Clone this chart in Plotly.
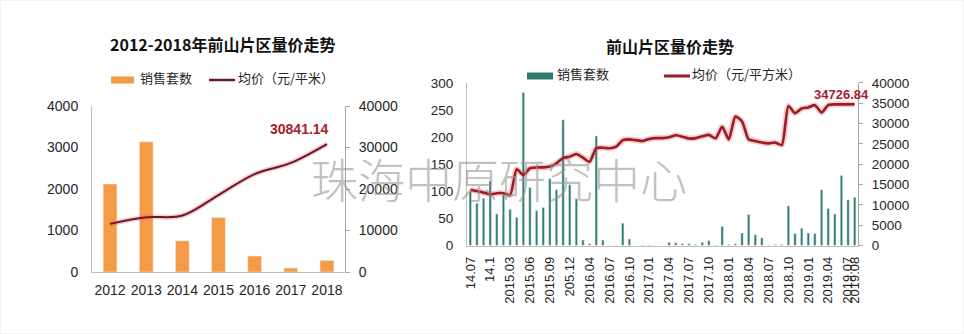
import plotly.graph_objects as go

# ---------------- data ----------------
# 2012-2018 yearly volume / average price
years = ["2012", "2013", "2014", "2015", "2016", "2017", "2018"]
year_sales = [2120, 3136, 751, 1311, 384, 96, 279]
year_price = [11600, 13200, 13600, 18550, 23600, 26300, 30841.14]

# monthly volume / average price, 2014.07 - 2019.08
months = [
    "2014.07", "2014.08", "2014.09", "2014.10", "2014.11", "2014.12",
    "2015.03", "2015.04", "2015.05", "2015.06", "2015.07", "2015.08",
    "2015.09", "2015.10", "2015.11", "2015.12",
    "2016.01", "2016.02",
    "2016.04", "2016.05", "2016.06", "2016.07", "2016.08", "2016.09",
    "2016.10", "2016.11", "2016.12",
    "2017.01", "2017.02", "2017.03", "2017.04", "2017.05", "2017.06",
    "2017.07", "2017.08", "2017.09", "2017.10", "2017.11", "2017.12",
    "2018.01", "2018.02", "2018.03", "2018.04", "2018.05", "2018.06",
    "2018.07", "2018.08", "2018.09", "2018.10", "2018.11", "2018.12",
    "2019.01", "2019.02", "2019.03", "2019.04", "2019.05", "2019.06",
    "2019.07", "2019.08",
]
month_sales = [
    100, 78, 87, 119, 58, 93, 67, 52, 282, 107,
    64, 70, 123, 103, 232, 112, 86, 10, 3, 202,
    10, 0, 1, 41, 12, 0, 1, 1, 0, 0,
    6, 5, 3, 3, 2, 6, 9, 1, 35, 2,
    3, 23, 57, 20, 14, 1, 2, 2, 73, 22,
    32, 23, 22, 103, 68, 58, 129, 84, 89,
]
month_price = [
    13650, 13400, 13000, 12600, 12850, 12850, 12400, 18750, 17350, 19000,
    19200, 19200, 19400, 20200, 21500, 21850, 22500, 21600, 20600, 23900,
    24050, 23900, 24300, 25900, 26100, 25900, 25700, 26200, 26400, 26400,
    26600, 27100, 26750, 26300, 26400, 26850, 27200, 26350, 29200, 26100,
    31700, 30500, 26100, 25700, 25300, 25100, 25300, 24700, 34300, 32500,
    33700, 33950, 34500, 32700, 34500, 34700, 34700, 34700, 34726.84,
]

# labelled months on the monthly axis and the text shown under them
month_tick_vals = [
    "2014.07", "2014.10", "2015.03", "2015.06", "2015.09", "2015.12",
    "2016.04", "2016.07", "2016.10", "2017.01", "2017.04", "2017.07",
    "2017.10", "2018.01", "2018.04", "2018.07", "2018.10", "2019.01",
    "2019.04", "2019.07", "2019.08",
]
month_tick_text = [
    "14.07", "14.1", "2015.03", "2015.06", "2015.09", "205.12",
    "2016.04", "2016.07", "2016.10", "2017.01", "2017.04", "2017.07",
    "2017.10", "2018.01", "2018.04", "2018.07", "2018.10", "2019.01",
    "2019.04", "2019.07", "2019.08",
]

left_title = "2012-2018年前山片区量价走势"
right_title = "前山片区量价走势"
sales_name = "销售套数"
left_price_name = "均价（元/平米）"
right_price_name = "均价（元/平方米）"
watermark = "珠海中原研究中心"

# ---------------- styling ----------------
W, H = 964, 334
ORANGE = "#F59B45"
TEAL = "#2E7B6F"
MAROON = "#721526"
RED = "#9C1B24"
AXIS = "#BFBFBF"
TXT = "#262626"
NUM_FONT = "Liberation Sans"
CJK_FONT = "Noto Sans CJK SC"


def fx(px):
    return px / W


def fy(py):
    return 1 - py / H


# category positions (numeric-looking category names are passed by index)
month_tick_idx = [months.index(m) for m in month_tick_vals]

fig = go.Figure()

# ----- yearly chart -----
fig.add_trace(go.Bar(x=years, y=year_sales, name=sales_name, marker_color=ORANGE,
                     width=0.38, xaxis="x", yaxis="y", showlegend=False))
fig.add_trace(go.Scatter(x=years, y=year_price, mode="lines", xaxis="x", yaxis="y2",
                         line=dict(color="rgba(214,90,100,0.30)", width=5, shape="spline", smoothing=1),
                         hoverinfo="skip", showlegend=False))
fig.add_trace(go.Scatter(x=years, y=year_price, name=left_price_name, mode="lines",
                         xaxis="x", yaxis="y2",
                         line=dict(color=MAROON, width=2, shape="spline", smoothing=1),
                         showlegend=False))

# ----- monthly chart -----
fig.add_trace(go.Bar(x=months, y=month_sales, name=sales_name, marker_color=TEAL,
                     width=0.36, xaxis="x2", yaxis="y3", showlegend=False))
fig.add_trace(go.Scatter(x=months, y=month_price, mode="lines", xaxis="x2", yaxis="y4",
                         line=dict(color="rgba(225,90,95,0.30)", width=6, shape="spline", smoothing=0.6),
                         hoverinfo="skip", showlegend=False))
fig.add_trace(go.Scatter(x=months, y=month_price, name=right_price_name, mode="lines",
                         xaxis="x2", yaxis="y4",
                         line=dict(color=RED, width=2.6, shape="spline", smoothing=0.6),
                         showlegend=False))

tick_num = dict(family=NUM_FONT, size=14, color=TXT)
tick_num_r = dict(family=NUM_FONT, size=13.5, color=TXT)

fig.update_layout(
    width=W, height=H,
    margin=dict(l=0, r=0, t=0, b=0, pad=0, autoexpand=False),
    showlegend=False,
    paper_bgcolor="white", plot_bgcolor="white",
    xaxis=dict(domain=[fx(92), fx(345)], anchor="y", type="category",
               categoryorder="array", categoryarray=years,
               range=[-0.5, len(years) - 0.5],
               showline=True, linecolor=AXIS, linewidth=1, ticks="",
               tickfont=tick_num, ticklabelstandoff=5, showgrid=False),
    yaxis=dict(domain=[fy(272), fy(106)], anchor="x", range=[0, 4000], dtick=1000,
               tickformat="d",
               showline=True, linecolor=AXIS, ticks="", showgrid=False, zeroline=False,
               tickfont=tick_num, ticklabelstandoff=10),
    yaxis2=dict(overlaying="y", side="right", anchor="x", range=[0, 40000], dtick=10000,
                tickformat="d",
                showline=True, linecolor="#A6A6A6", ticks="outside", ticklen=4,
                tickcolor="#A6A6A6", showgrid=False, zeroline=False,
                tickfont=tick_num, ticklabelstandoff=6),
    xaxis2=dict(domain=[fx(467), fx(858)], anchor="y3", type="category",
                categoryorder="array", categoryarray=months,
                range=[-0.5, len(months) - 0.5],
                showline=True, linecolor=AXIS, ticks="", tickangle=-90,
                tickmode="array", tickvals=month_tick_idx, ticktext=month_tick_text,
                tickfont=dict(family=NUM_FONT, size=13, color=TXT),
                ticklabelstandoff=5, showgrid=False),
    yaxis3=dict(domain=[fy(245.5), fy(82.8)], anchor="x2", range=[0, 300], dtick=50,
                tickformat="d",
                showline=True, linecolor=AXIS, ticks="", showgrid=False, zeroline=False,
                tickfont=tick_num_r, ticklabelstandoff=10),
    yaxis4=dict(overlaying="y3", side="right", anchor="x2", range=[0, 40000], dtick=5000,
                tickformat="d",
                showline=True, linecolor="#A6A6A6", ticks="outside", ticklen=4,
                tickcolor="#A6A6A6", showgrid=False, zeroline=False,
                tickfont=tick_num_r, ticklabelstandoff=6),
)
fig.update_xaxes(automargin=False)
fig.update_yaxes(automargin=False)


def paper_text(text, x, y, size, xanchor="left", color=TXT, bold=False):
    return dict(text=f"<b>{text}</b>" if bold else text, x=fx(x), y=fy(y),
                xref="paper", yref="paper", xanchor=xanchor, yanchor="middle",
                showarrow=False, font=dict(family=CJK_FONT, size=size, color=color))


annotations = [
    paper_text(left_title, 222, 44, 16, xanchor="center", color="#111", bold=True),
    paper_text(right_title, 670, 46, 16, xanchor="center", color="#111", bold=True),
    paper_text(sales_name, 138, 78, 13),
    paper_text(left_price_name, 236, 78, 13),
    paper_text(sales_name, 555, 74, 13),
    paper_text(right_price_name, 690, 74, 13),
    # end-of-line value labels
    dict(text=f"<b>{year_price[-1]:.2f}</b>", x=len(years) - 1, y=year_price[-1],
         xref="x", yref="y2", xanchor="right", yanchor="middle", xshift=4, yshift=15,
         showarrow=False, font=dict(family=NUM_FONT, size=14, color="#A8202C")),
    dict(text=f"<b>{month_price[-1]:.2f}</b>", x=len(months) - 1, y=month_price[-1],
         xref="x2", yref="y4", xanchor="center", yanchor="middle", xshift=-13, yshift=10,
         showarrow=False, font=dict(family=NUM_FONT, size=13, color="#A8202C")),
    # watermark
    dict(text=watermark, x=fx(499), y=fy(177), xref="paper", yref="paper",
         xanchor="center", yanchor="middle", showarrow=False,
         font=dict(family=CJK_FONT, size=47, weight=300, color="rgba(150,150,150,0.6)")),
]
fig.update_layout(annotations=annotations)

shapes = [
    # legend keys
    dict(type="rect", xref="paper", yref="paper", x0=fx(111), x1=fx(134), y0=fy(83.5), y1=fy(76.5),
         fillcolor=ORANGE, line=dict(width=0)),
    dict(type="line", xref="paper", yref="paper", x0=fx(209), x1=fx(235), y0=fy(80), y1=fy(80),
         line=dict(color=MAROON, width=2.5)),
    dict(type="rect", xref="paper", yref="paper", x0=fx(527), x1=fx(553), y0=fy(79.5), y1=fy(72.5),
         fillcolor=TEAL, line=dict(width=0)),
    dict(type="line", xref="paper", yref="paper", x0=fx(664), x1=fx(690), y0=fy(76), y1=fy(76),
         line=dict(color=RED, width=3)),
    # thin frame
    dict(type="rect", xref="paper", yref="paper", x0=0, x1=1, y0=0, y1=1,
         line=dict(color="#E6E6E6", width=1)),
]
fig.update_layout(shapes=shapes)

fig.write_html("out.html")
